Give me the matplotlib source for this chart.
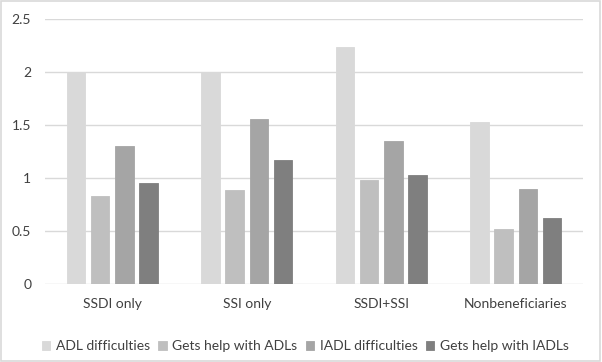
import matplotlib.pyplot as plt
import numpy as np

categories = ['SSDI only', 'SSI only', 'SSDI+SSI', 'Nonbeneficiaries']
series_names = ['ADL difficulties', 'Gets help with ADLs', 'IADL difficulties', 'Gets help with IADLs']
adl = [2.0, 2.0, 2.24, 1.53]
help_adl = [0.83, 0.89, 0.98, 0.52]
iadl = [1.30, 1.56, 1.35, 0.90]
help_iadl = [0.95, 1.17, 1.03, 0.62]
colors = ['#d9d9d9', '#bfbfbf', '#a5a5a5', '#7f7f7f']

plt.rcParams['font.family'] = ['Lato', 'DejaVu Sans']

fig = plt.figure(figsize=(6.02, 3.62), dpi=100, facecolor='white')
ax = fig.add_axes([0.0748, 0.2155, 0.8936, 0.732])

x = np.arange(len(categories))
step = 0.18
width = 0.1375
for i, (vals, name) in enumerate(zip([adl, help_adl, iadl, help_iadl], series_names)):
    ax.bar(x + (i - 1.5) * step, vals, width, color=colors[i], label=name,
           edgecolor=colors[i], linewidth=0.6, zorder=3)

ax.set_xlim(-0.5, 3.5)
ax.set_ylim(0, 2.5)
ax.set_yticks([0, 0.5, 1, 1.5, 2, 2.5])
ax.set_yticklabels(['0', '0.5', '1', '1.5', '2', '2.5'])
ax.set_xticks(x)
ax.set_xticklabels(categories)
ax.grid(axis='y', color='#d9d9d9', linewidth=1, zorder=0)
for s in ax.spines.values():
    s.set_visible(False)
ax.tick_params(axis='both', length=0, colors='#404040', labelsize=10)
ax.tick_params(axis='y', pad=10)
ax.tick_params(axis='x', pad=10)

fig.legend(loc='center', bbox_to_anchor=(0.507, 1 - 346 / 362), ncol=4, frameon=False,
           fontsize=10, handlelength=0.6, handleheight=0.6, handletextpad=0.4,
           columnspacing=0.6, labelcolor='#404040')

fig.patches.append(plt.Rectangle((0.002, 0.003), 0.995, 0.993, transform=fig.transFigure,
                                 fill=False, edgecolor='#d9d9d9', linewidth=1.2))

fig.savefig('out.png', dpi=100, facecolor='white')
